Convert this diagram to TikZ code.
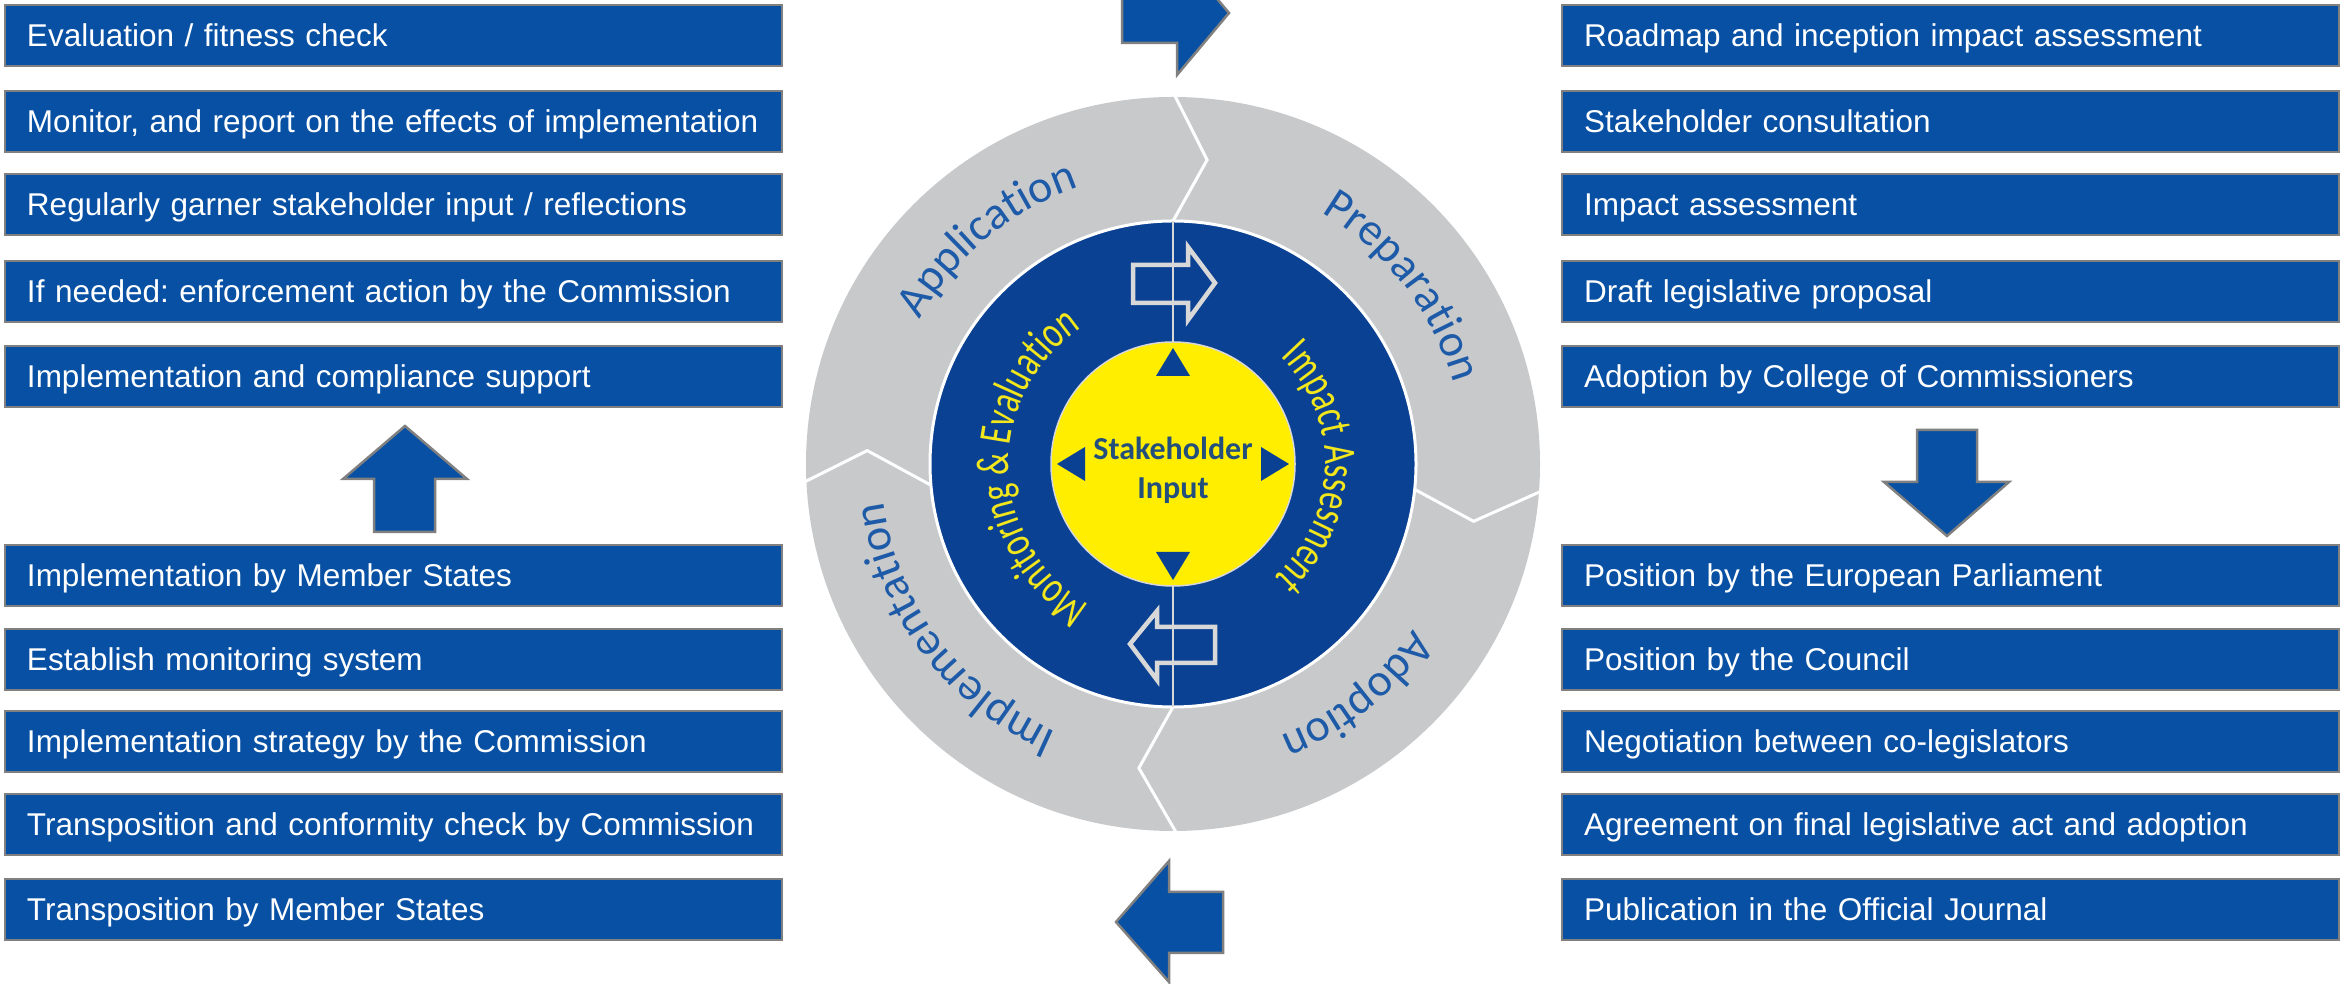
\documentclass[tikz,border=0pt]{standalone}
\usepackage{fontspec}
\setmainfont{Liberation Sans}
\newfontfamily\calfont{Carlito}
\newfontfamily\calnarrow[FakeStretch=0.72]{Carlito}
\usetikzlibrary{decorations.text}
\frenchspacing

\definecolor{boxblue}{HTML}{0750A3}
\definecolor{boxedge}{HTML}{808080}
\definecolor{ringgray}{HTML}{C8C9CB}
\definecolor{ringblue}{HTML}{0A4193}
\definecolor{hubyellow}{HTML}{FFEE00}
\definecolor{labelblue}{HTML}{1D5AA8}
\definecolor{labelyellow}{HTML}{F2E61C}
\definecolor{hubtext}{HTML}{234F7D}
\definecolor{hollowedge}{HTML}{D8D8D8}

\newcommand\ringlabelfont{\calfont\fontsize{46}{52}\selectfont}
\newcommand\innerlabelfont{\calnarrow\fontsize{46}{52}\selectfont}

\begin{document}
\begin{tikzpicture}[x=1pt,y=1pt,
  stepbox/.style={rectangle, fill=boxblue, draw=boxedge, line width=2.5pt,
    minimum height=61pt, text width=733pt, inner xsep=22pt, inner ysep=0pt,
    text height=22.5pt, text depth=0pt, align=left, text=white,
    font=\fontsize{31.5}{36}\selectfont},
  bigarrow/.style={fill=boxblue, draw=boxedge, line width=2.5pt, line join=miter},
  hollowarrow/.style={fill=ringblue, draw=hollowedge, line width=4.5pt, line join=miter},
  divider/.style={draw=white, line width=3pt},
  ringlabel/.style={decorate, decoration={text along path, text align=center,
    text color=labelblue, text={|\ringlabelfont|#1}}},
  innerlabel/.style={decorate, decoration={text along path, text align=center,
    text color=labelyellow, text={|\innerlabelfont|#1}}}
]
\useasboundingbox (0,0) rectangle (2351,984);
\clip (0,0) rectangle (2351,984);

% ---------- left column ----------
\node[stepbox] (l1) at (393.5,948.5) {Evaluation / fitness check};
\node[stepbox] (l2) at (393.5,862.5) {Monitor, and report on the effects of implementation};
\node[stepbox] (l3) at (393.5,779.5) {Regularly garner stakeholder input / reflections};
\node[stepbox] (l4) at (393.5,692.5) {If needed: enforcement action by the Commission};
\node[stepbox] (l5) at (393.5,607.5) {Implementation and compliance support};
\node[stepbox] (l6) at (393.5,408.5) {Implementation by Member States};
\node[stepbox] (l7) at (393.5,324.5) {Establish monitoring system};
\node[stepbox] (l8) at (393.5,242.5) {Implementation strategy by the Commission};
\node[stepbox] (l9) at (393.5,159.5) {Transposition and conformity check by Commission};
\node[stepbox] (l10) at (393.5,74.5) {Transposition by Member States};

% ---------- right column ----------
\node[stepbox] (r1) at (1950.5,948.5) {Roadmap and inception impact assessment};
\node[stepbox] (r2) at (1950.5,862.5) {Stakeholder consultation};
\node[stepbox] (r3) at (1950.5,779.5) {Impact assessment};
\node[stepbox] (r4) at (1950.5,692.5) {Draft legislative proposal};
\node[stepbox] (r5) at (1950.5,607.5) {Adoption by College of Commissioners};
\node[stepbox] (r6) at (1950.5,408.5) {Position by the European Parliament};
\node[stepbox] (r7) at (1950.5,324.5) {Position by the Council};
\node[stepbox] (r8) at (1950.5,242.5) {Negotiation between co-legislators};
\node[stepbox] (r9) at (1950.5,159.5) {Agreement on final legislative act and adoption};
\node[stepbox] (r10) at (1950.5,74.5) {Publication in the Official Journal};

% ---------- block arrows ----------
% up (left column)
\draw[bigarrow] (405,558) -- (467,505) -- (435,505) -- (435,452) -- (374,452)
  -- (374,505) -- (343,505) -- cycle;
% down (right column)
\draw[bigarrow] (1917,554) -- (1977,554) -- (1977,502) -- (2009,502) -- (1947,448)
  -- (1884,502) -- (1917,502) -- cycle;
% left (bottom)
\draw[bigarrow] (1116,62) -- (1169,123) -- (1169,92) -- (1223,92) -- (1223,31)
  -- (1169,31) -- (1169,2) -- cycle;
% right (top, running off the edge)
\draw[bigarrow] (1122,1001) -- (1177,1001) -- (1177,1033) -- (1229,971)
  -- (1177,909) -- (1177,941) -- (1122,941) -- cycle;

% ---------- policy cycle wheel ----------
\begin{scope}[shift={(1173,520)}]
  % outer grey ring with chevron dividers
  \fill[ringgray] (0,0) circle[radius=367];
  \draw[divider] (90:372) -- (83.6:306) -- (90:243);
  \draw[divider] (-4:372) -- (-10.8:306) -- (-6:243);
  \draw[divider] (-89.2:372) -- (-96.4:306) -- (-90:243);
  \draw[divider] (183:372) -- (177.5:306) -- (185:243);

  % phase names
  \path[ringlabel={Application}] (179.5:292) arc[start angle=179.5, end angle=79.5, radius=292];
  \path[ringlabel={Preparation}] (87.7:292) arc[start angle=87.7, end angle=-12.3, radius=292];
  \path[ringlabel={Adoption}] (-1.5:292) arc[start angle=-1.5, end angle=-101.5, radius=292];
  \path[ringlabel={Implementation}] (-93:292) arc[start angle=-93, end angle=-193, radius=292];

  % middle blue ring
  \filldraw[fill=ringblue, draw=white, line width=3pt] (0,0) circle[radius=243];

  % hollow direction arrows
  \draw[hollowarrow] (-40,199) -- (15,199) -- (15,217) -- (42,181) -- (15,144)
    -- (15,161) -- (-40,161) -- cycle;
  \draw[hollowarrow] (-43,-180) -- (-16,-147) -- (-16,-163) -- (42,-163) -- (42,-199)
    -- (-16,-199) -- (-16,-216) -- cycle;
  \draw[hollowedge, line width=1.5pt] (0,243) -- (0,-243);

  \path[innerlabel={Monitoring {\&} Evaluation}] (261.8:164) arc[start angle=261.8, end angle=101.8, radius=164];
  \path[innerlabel={Impact Assesment}] (78.6:152) arc[start angle=78.6, end angle=-81.4, radius=152];

  % yellow hub
  \filldraw[fill=hubyellow, draw=hollowedge, line width=1.5pt] (0,0) circle[radius=122];
  \foreach \a in {0,90,180,270}
    \fill[ringblue, rotate=\a] (116,0) -- (88,17) -- (88,-17) -- cycle;
  \node[font=\calfont\bfseries\fontsize{32}{39}\selectfont, text=hubtext, align=center]
    (hub) at (0,-6) {Stakeholder\\Input};
\end{scope}
\end{tikzpicture}
\end{document}
